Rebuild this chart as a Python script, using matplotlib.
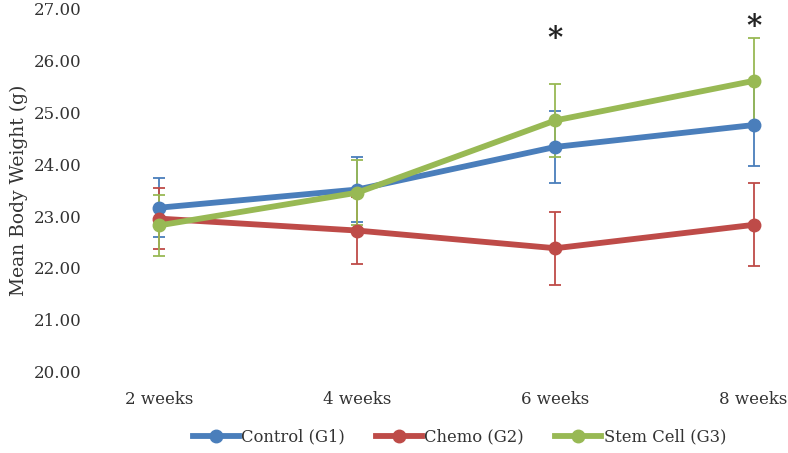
#!/usr/bin/env python3
import matplotlib
matplotlib.use('Agg')
import matplotlib.pyplot as plt

weeks = ['2 weeks', '4 weeks', '6 weeks', '8 weeks']

control = [23.16, 23.51, 24.33, 24.75]
control_err = [0.57, 0.63, 0.69, 0.79]

chemo = [22.95, 22.72, 22.38, 22.83]
chemo_err = [0.58, 0.65, 0.70, 0.80]

stem = [22.82, 23.45, 24.84, 25.60]
stem_err = [0.58, 0.63, 0.70, 0.82]

# significance marks above 6 and 8 weeks
star_x = [2, 3]
star_y = [26.42, 26.65]

series = [
    ('Control (G1)', control, control_err, '#4A7EBB'),
    ('Chemo (G2)', chemo, chemo_err, '#BE4B48'),
    ('Stem Cell (G3)', stem, stem_err, '#98B954'),
]

plt.rcParams['font.family'] = ['DejaVu Serif']
fig = plt.figure(figsize=(7.88, 4.53), dpi=100)
ax = fig.add_axes([0.114, 0.179, 0.886, 0.803])

x = list(range(len(weeks)))
for name, vals, err, col in series:
    ax.errorbar(x, vals, yerr=err, fmt='none', ecolor=col, elinewidth=1.3,
                capsize=4, capthick=1.3, zorder=2)
for name, vals, err, col in series:
    ax.plot(x, vals, '-o', color=col, lw=4.2, markersize=9, label=name, zorder=3)

for sx, sy in zip(star_x, star_y):
    ax.text(sx, sy, '*', ha='center', va='center', fontsize=21, fontweight='bold',
            color='#222222', clip_on=False)

ax.set_xlim(-0.351, 3.174)
ax.set_ylim(20, 27)
ax.set_yticks([20, 21, 22, 23, 24, 25, 26, 27])
ax.set_yticklabels(['{:.2f}'.format(v) for v in range(20, 28)])
ax.set_xticks(x)
ax.set_xticklabels(weeks)
for s in ax.spines.values():
    s.set_visible(False)
ax.tick_params(axis='both', length=0, labelsize=12, colors='#333333')
ax.tick_params(axis='x', pad=14)
ax.tick_params(axis='y', pad=6)
ax.set_ylabel('Mean Body Weight (g)', fontsize=13.5, color='#333333', labelpad=4)

fig.legend(loc='center', bbox_to_anchor=(0.583, 0.035), ncol=3, frameon=False,
           fontsize=11.8, handlelength=2.8, columnspacing=1.9, handletextpad=0.15,
           labelcolor='#333333')

fig.savefig('out.png', dpi=100)
